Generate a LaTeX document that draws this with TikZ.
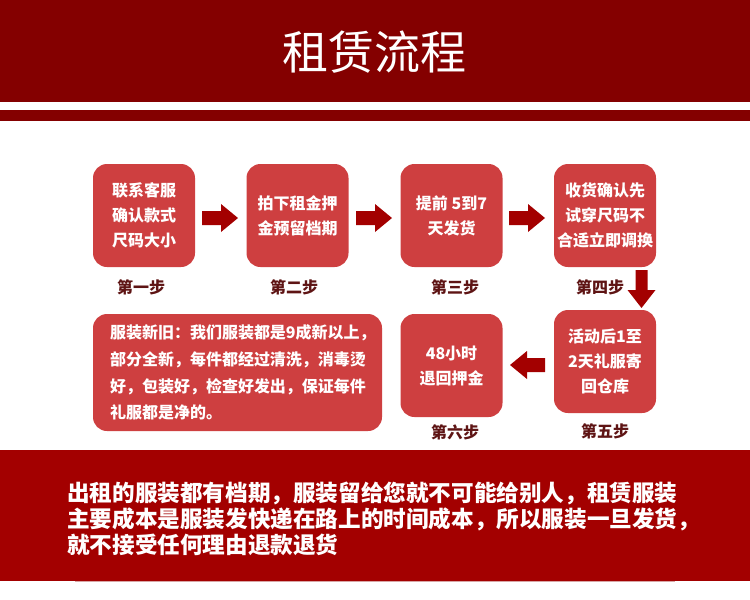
\documentclass[tikz,border=0pt]{standalone}
\usepackage{fontspec}
\newfontfamily\cjk{Noto Sans CJK SC}
\definecolor{topred}{HTML}{840000}
\definecolor{botred}{HTML}{A30000}
\definecolor{boxred}{HTML}{CE3F40}
\definecolor{arrowc}{HTML}{A30000}
\definecolor{labelc}{HTML}{5E1414}
\definecolor{linec}{HTML}{D8A6A6}
\begin{document}
\begin{tikzpicture}[x=1pt,y=-1pt,
  stepbox/.style={fill=boxred, rounded corners=14pt, draw=none, text=white,
    font=\cjk\bfseries\fontsize{16}{25}\selectfont, align=center, inner sep=0pt,
    minimum width=102pt, minimum height=103pt},
  steplabel/.style={text=labelc, font=\cjk\bfseries\fontsize{16}{20}\selectfont, inner sep=0pt},
  bottext/.style={text=white, font=\cjk\bfseries\fontsize{22.6}{26}\selectfont, inner sep=0pt, anchor=west},
  rarrow/.pic={\fill[arrowc] (0,-7) -- (19,-7) -- (19,-14) -- (36,0) -- (19,14) -- (19,7) -- (0,7) -- cycle;},
  larrow/.pic={\fill[arrowc] (0,-7) -- (-18,-7) -- (-18,-14) -- (-35,0) -- (-18,14) -- (-18,7) -- (0,7) -- cycle;},
  darrow/.pic={\fill[arrowc] (-6,0) -- (6,0) -- (6,20) -- (14,20) -- (0,38) -- (-14,20) -- (-6,20) -- cycle;}]
\useasboundingbox (0,0) rectangle (750,600);
% top bands
\fill[topred] (0,0) rectangle (750,102);
\fill[topred] (0,110) rectangle (750,121);
\node[text=white, font=\cjk\fontsize{46}{50}\selectfont, inner sep=0pt] (title) at (374,52) {租赁流程};
% row 1
\node[stepbox] (b1) at (144,215.5) {联系客服\\确认款式\\尺码大小};
\node[stepbox] (b2) at (297.5,215.5) {拍下租金押\\金预留档期};
\node[stepbox] (b3) at (451.5,215.5) {提前 5到7\\天发货};
\node[stepbox] (b4) at (605,215.5) {收货确认先\\试穿尺码不\\合适立即调换};
\node[steplabel] (l1) at (141,287) {第一步};
\node[steplabel] (l2) at (294,287) {第二步};
\node[steplabel] (l3) at (455,287) {第三步};
\node[steplabel] (l4) at (600,287) {第四步};
\pic at (202,218) {rarrow};
\pic at (356,218) {rarrow};
\pic at (509,218) {rarrow};
\pic at (641.5,270) {darrow};
% row 2
\node[stepbox] (b5) at (605,361.5) {活动后1至\\2天礼服寄\\回仓库};
\node[stepbox] (b6) at (451.5,365.5) {48小时\\退回押金};
\node[steplabel] (l5) at (605,431) {第五步};
\node[steplabel] (l6) at (455,432) {第六步};
\pic at (545,365) {larrow};
\node[fill=boxred, rounded corners=14pt, minimum width=289pt, minimum height=117pt, inner sep=0pt] (wbox) at (237.5,372.5) {};
\node[anchor=west, text=white, font=\cjk\bfseries\fontsize{16}{26.7}\selectfont, align=left, inner sep=0pt] (wtext) at ([xshift=17pt]wbox.west)
  {服装新旧：我们服装都是9成新以上，\\部分全新，每件都经过清洗，消毒烫\\好，包装好，检查好发出，保证每件\\礼服都是净的。};
% bottom band
\fill[botred] (0,450) rectangle (750,580.5);
\draw[linec, line width=1pt] (75,581) -- (675,581);
\node[bottext] (t1) at (67,493) {出租的服装都有档期，服装留给您就不可能给别人，租赁服装};
\node[bottext] (t2) at (67,519) {主要成本是服装发快递在路上的时间成本，所以服装一旦发货，};
\node[bottext] (t3) at (67,545) {就不接受任何理由退款退货};
\end{tikzpicture}
\end{document}
